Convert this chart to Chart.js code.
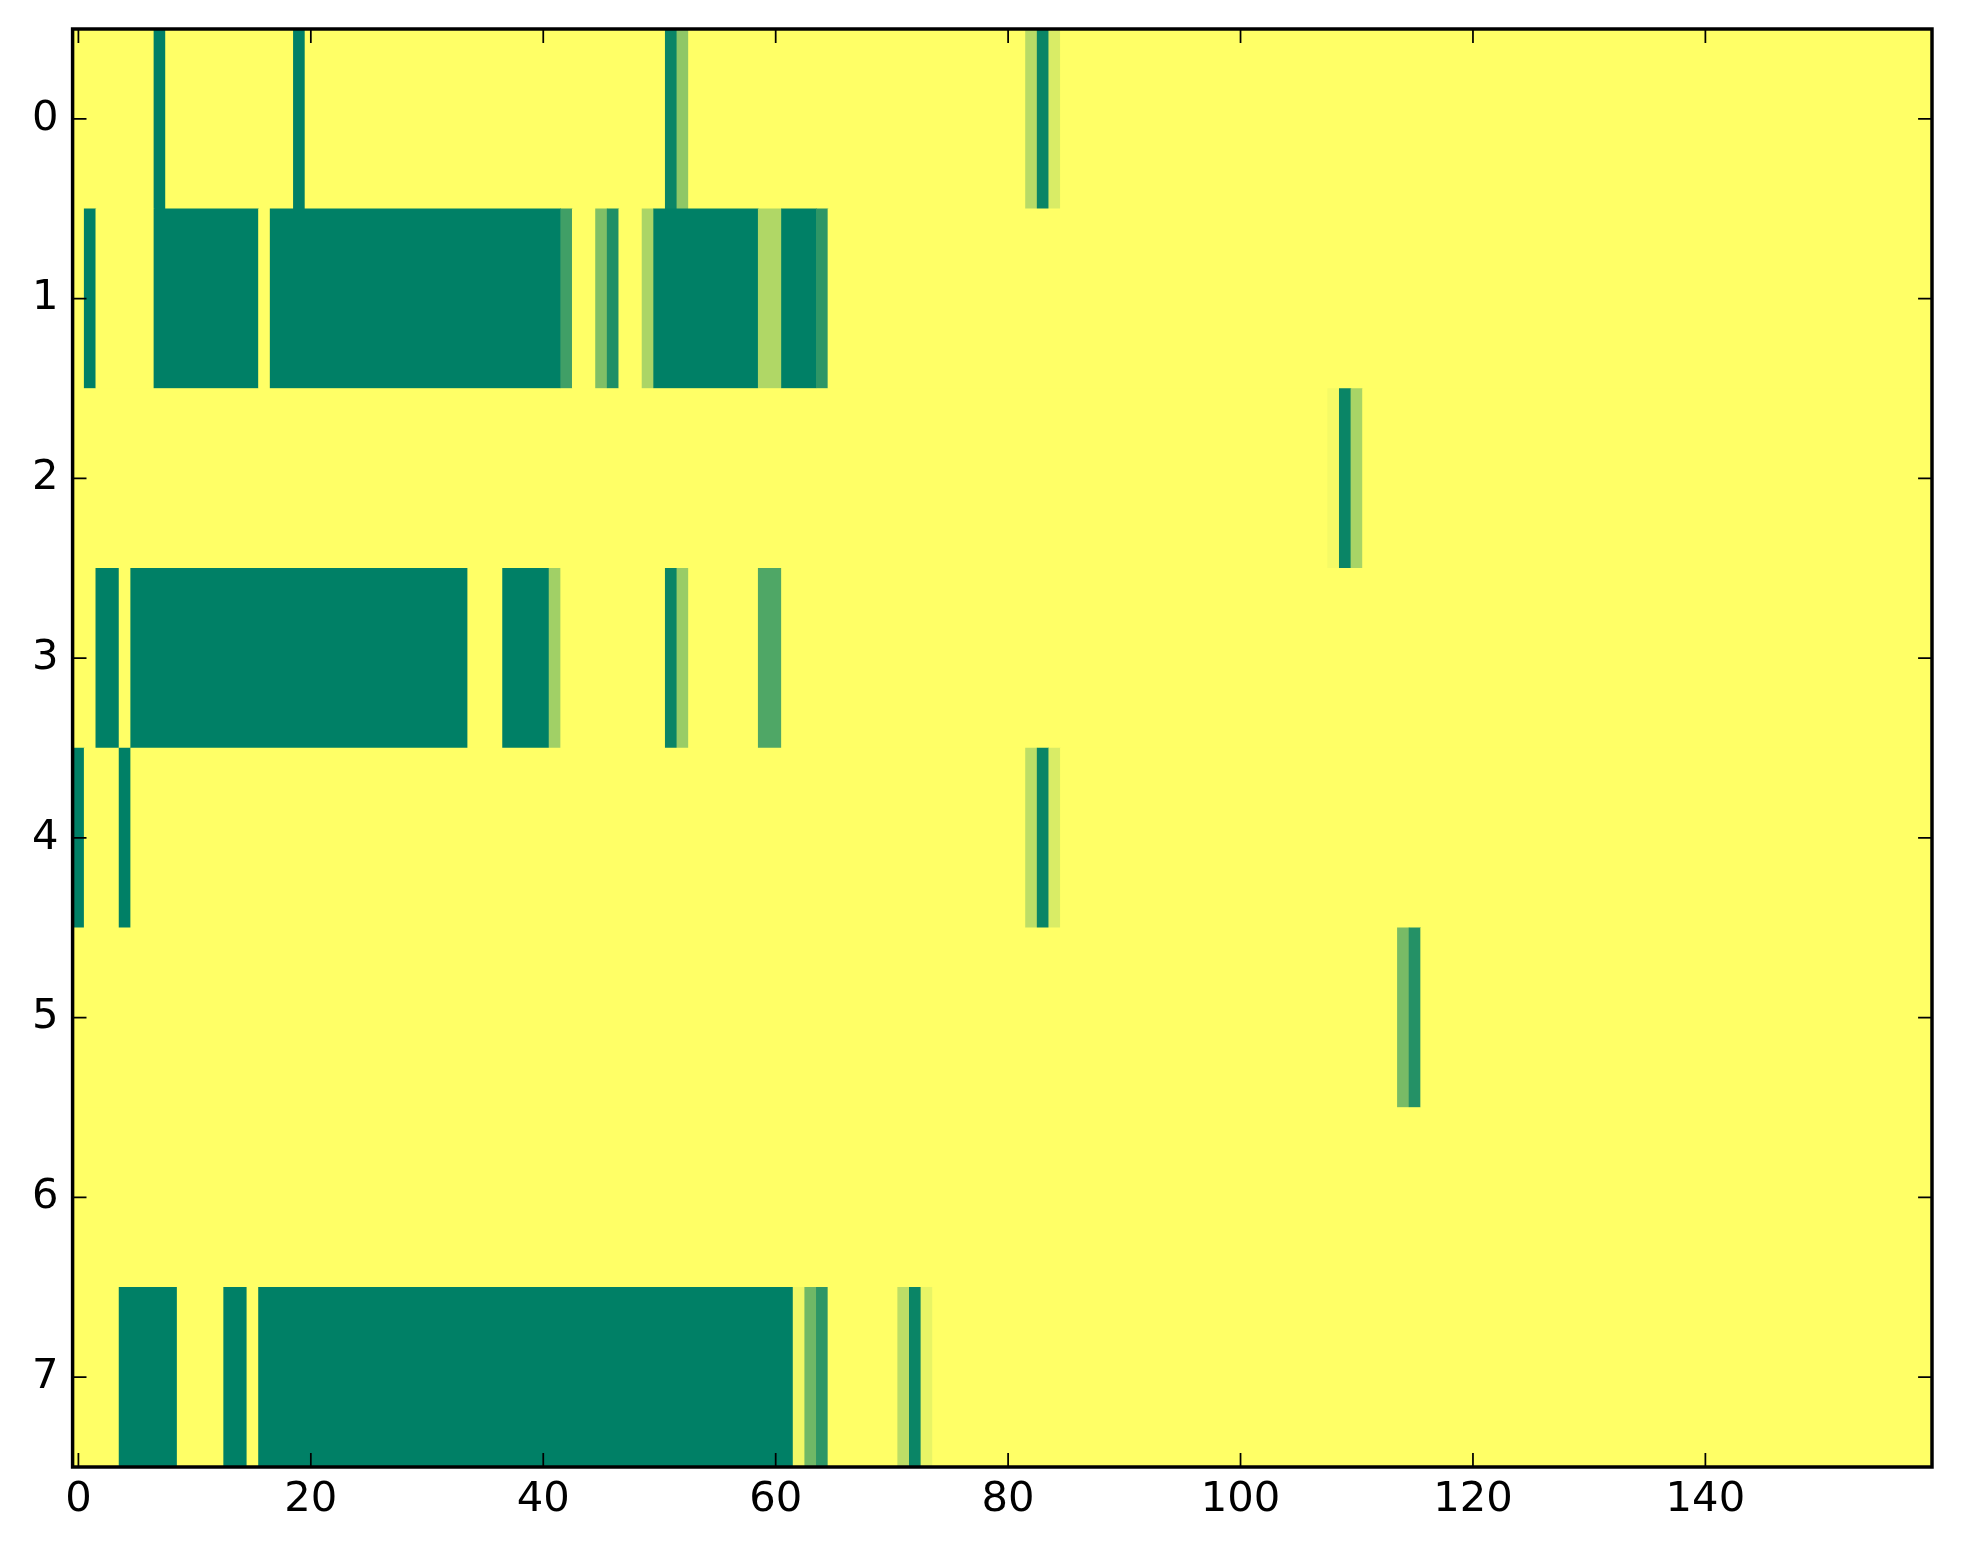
<!DOCTYPE html>
<html>
<head>
<meta charset="utf-8">
<script src="https://cdn.jsdelivr.net/npm/chart.js@4.4.1/dist/chart.umd.min.js"></script>
<style>
html,body{margin:0;padding:0;background:#ffffff;}
canvas{display:block;}
</style>
</head>
<body>
<canvas id="c" width="1963" height="1564"></canvas>
<script>
// ---- data (imshow-style grid: 8 rows x 160 columns, values 0..1) ----
const rowLabels = ['0','1','2','3','4','5','6','7'];
const xTickValues = [0,20,40,60,80,100,120,140];

const row0 = [
0,0,0,0,0,0,0,1,0,0,0,0,0,0,0,0,0,0,0,1,
0,0,0,0,0,0,0,0,0,0,0,0,0,0,0,0,0,0,0,0,
0,0,0,0,0,0,0,0,0,0,0,0.96,0.44,0,0,0,0,0,0,0,
0,0,0,0,0,0,0,0,0,0,0,0,0,0,0,0,0,0,0,0,
0,0,0.28,0.96,0.15,0,0,0,0,0,0,0,0,0,0,0,0,0,0,0,
0,0,0,0,0,0,0,0,0,0,0,0,0,0,0,0,0,0,0,0,
0,0,0,0,0,0,0,0,0,0,0,0,0,0,0,0,0,0,0,0,
0,0,0,0,0,0,0,0,0,0,0,0,0,0,0,0,0,0,0,0];

const row1 = [
0,1,0,0,0,0,0,1,1,1,1,1,1,1,1,1,0,1,1,1,
1,1,1,1,1,1,1,1,1,1,1,1,1,1,1,1,1,1,1,1,
1,1,0.75,0,0,0.5,0.88,0,0,0.33,1,1,1,1,1,1,1,1,1,0.31,
0.31,1,1,1,0.82,0,0,0,0,0,0,0,0,0,0,0,0,0,0,0,
0,0,0,0,0,0,0,0,0,0,0,0,0,0,0,0,0,0,0,0,
0,0,0,0,0,0,0,0,0,0,0,0,0,0,0,0,0,0,0,0,
0,0,0,0,0,0,0,0,0,0,0,0,0,0,0,0,0,0,0,0,
0,0,0,0,0,0,0,0,0,0,0,0,0,0,0,0,0,0,0,0];

const row2 = [
0,0,0,0,0,0,0,0,0,0,0,0,0,0,0,0,0,0,0,0,
0,0,0,0,0,0,0,0,0,0,0,0,0,0,0,0,0,0,0,0,
0,0,0,0,0,0,0,0,0,0,0,0,0,0,0,0,0,0,0,0,
0,0,0,0,0,0,0,0,0,0,0,0,0,0,0,0,0,0,0,0,
0,0,0,0,0,0,0,0,0,0,0,0,0,0,0,0,0,0,0,0,
0,0,0,0,0,0,0,0,0.04,0.96,0.34,0,0,0,0,0,0,0,0,0,
0,0,0,0,0,0,0,0,0,0,0,0,0,0,0,0,0,0,0,0,
0,0,0,0,0,0,0,0,0,0,0,0,0,0,0,0,0,0,0,0];

const row3 = [
0,0,1,1,0,1,1,1,1,1,1,1,1,1,1,1,1,1,1,1,
1,1,1,1,1,1,1,1,1,1,1,1,1,1,0,0,0,1,1,1,
1,0.37,0,0,0,0,0,0,0,0,0,0.96,0.4,0,0,0,0,0,0,0.69,
0.69,0,0,0,0,0,0,0,0,0,0,0,0,0,0,0,0,0,0,0,
0,0,0,0,0,0,0,0,0,0,0,0,0,0,0,0,0,0,0,0,
0,0,0,0,0,0,0,0,0,0,0,0,0,0,0,0,0,0,0,0,
0,0,0,0,0,0,0,0,0,0,0,0,0,0,0,0,0,0,0,0,
0,0,0,0,0,0,0,0,0,0,0,0,0,0,0,0,0,0,0,0];

const row4 = [
1,0,0,0,1,0,0,0,0,0,0,0,0,0,0,0,0,0,0,0,
0,0,0,0,0,0,0,0,0,0,0,0,0,0,0,0,0,0,0,0,
0,0,0,0,0,0,0,0,0,0,0,0,0,0,0,0,0,0,0,0,
0,0,0,0,0,0,0,0,0,0,0,0,0,0,0,0,0,0,0,0,
0,0,0.26,0.96,0.15,0,0,0,0,0,0,0,0,0,0,0,0,0,0,0,
0,0,0,0,0,0,0,0,0,0,0,0,0,0,0,0,0,0,0,0,
0,0,0,0,0,0,0,0,0,0,0,0,0,0,0,0,0,0,0,0,
0,0,0,0,0,0,0,0,0,0,0,0,0,0,0,0,0,0,0,0];

const row5 = [
0,0,0,0,0,0,0,0,0,0,0,0,0,0,0,0,0,0,0,0,
0,0,0,0,0,0,0,0,0,0,0,0,0,0,0,0,0,0,0,0,
0,0,0,0,0,0,0,0,0,0,0,0,0,0,0,0,0,0,0,0,
0,0,0,0,0,0,0,0,0,0,0,0,0,0,0,0,0,0,0,0,
0,0,0,0,0,0,0,0,0,0,0,0,0,0,0,0,0,0,0,0,
0,0,0,0,0,0,0,0,0,0,0,0,0,0,0.53,0.86,0,0,0,0,
0,0,0,0,0,0,0,0,0,0,0,0,0,0,0,0,0,0,0,0,
0,0,0,0,0,0,0,0,0,0,0,0,0,0,0,0,0,0,0,0];

const row6 = [
0,0,0,0,0,0,0,0,0,0,0,0,0,0,0,0,0,0,0,0,
0,0,0,0,0,0,0,0,0,0,0,0,0,0,0,0,0,0,0,0,
0,0,0,0,0,0,0,0,0,0,0,0,0,0,0,0,0,0,0,0,
0,0,0,0,0,0,0,0,0,0,0,0,0,0,0,0,0,0,0,0,
0,0,0,0,0,0,0,0,0,0,0,0,0,0,0,0,0,0,0,0,
0,0,0,0,0,0,0,0,0,0,0,0,0,0,0,0,0,0,0,0,
0,0,0,0,0,0,0,0,0,0,0,0,0,0,0,0,0,0,0,0,
0,0,0,0,0,0,0,0,0,0,0,0,0,0,0,0,0,0,0,0];

const row7 = [
0,0,0,0,1,1,1,1,1,0,0,0,0,1,1,0,1,1,1,1,
1,1,1,1,1,1,1,1,1,1,1,1,1,1,1,1,1,1,1,1,
1,1,1,1,1,1,1,1,1,1,1,1,1,1,1,1,1,1,1,1,
1,1,0.06,0.56,0.82,0,0,0,0,0,0,0.26,0.96,0.09,0,0,0,0,0,0,
0,0,0,0,0,0,0,0,0,0,0,0,0,0,0,0,0,0,0,0,
0,0,0,0,0,0,0,0,0,0,0,0,0,0,0,0,0,0,0,0,
0,0,0,0,0,0,0,0,0,0,0,0,0,0,0,0,0,0,0,0,
0,0,0,0,0,0,0,0,0,0,0,0,0,0,0,0,0,0,0,0];

const rows = [row0,row1,row2,row3,row4,row5,row6,row7];

// matplotlib "summer_r" colormap
function summerR(v){
  const t = 1 - v;
  return 'rgb(' + Math.round(255*t) + ',' + Math.round(127.5 + 127.5*t) + ',102)';
}

// floating bars spanning [col-0.5, col+0.5]; neighbouring cells with the
// same value are joined into one bar so no anti-aliasing seams appear
const cells = [];
rows.forEach((vals, r) => {
  let start = 0;
  for (let c = 1; c <= vals.length; c++) {
    if (c === vals.length || vals[c] !== vals[start]) {
      cells.push({ x: [start - 0.5, c - 0.5], y: rowLabels[r], v: vals[start] });
      start = c;
    }
  }
});

const FONT = { family: 'DejaVu Sans', size: 41.7 };

const framePlugin = {
  id: 'frame',
  beforeDatasetsDraw(chart) {
    const { ctx, chartArea: a } = chart;
    ctx.save();
    ctx.fillStyle = summerR(0);
    ctx.fillRect(a.left, a.top, a.right - a.left, a.bottom - a.top);
    ctx.restore();
  },
  afterDraw(chart) {
    const { ctx, chartArea: a, scales } = chart;
    const len = 13.9;
    ctx.save();
    ctx.strokeStyle = '#000';
    ctx.lineWidth = 1.74;
    ctx.beginPath();
    scales.x.ticks.forEach(t => {
      const px = scales.x.getPixelForValue(t.value);
      ctx.moveTo(px, a.bottom); ctx.lineTo(px, a.bottom - len);
      ctx.moveTo(px, a.top); ctx.lineTo(px, a.top + len);
    });
    scales.y.ticks.forEach((t, i) => {
      const py = scales.y.getPixelForTick(i);
      ctx.moveTo(a.left, py); ctx.lineTo(a.left + len, py);
      ctx.moveTo(a.right, py); ctx.lineTo(a.right - len, py);
    });
    ctx.stroke();
    ctx.lineWidth = 3.47;
    ctx.strokeRect(a.left, a.top, a.right - a.left, a.bottom - a.top);
    ctx.restore();
  }
};

new Chart(document.getElementById('c'), {
  type: 'bar',
  data: {
    labels: rowLabels,
    datasets: [{
      data: cells,
      backgroundColor: ctx => (ctx.raw ? summerR(ctx.raw.v) : 'rgba(0,0,0,0)'),
      borderWidth: 0,
      barPercentage: 1,
      categoryPercentage: 1
    }]
  },
  options: {
    indexAxis: 'y',
    responsive: false,
    devicePixelRatio: 1,
    animation: false,
    events: [],
    layout: { padding: { top: 29, right: 31, left: 0, bottom: 0 } },
    plugins: { legend: { display: false }, tooltip: { enabled: false }, title: { display: false } },
    scales: {
      x: {
        type: 'linear',
        min: -0.5,
        max: 159.5,
        grid: { display: false, drawTicks: false },
        border: { display: false },
        afterBuildTicks: s => { s.ticks = xTickValues.map(v => ({ value: v })); },
        afterFit: s => { s.height = 97; s.paddingLeft = 0; s.paddingRight = 0; },
        ticks: { color: '#000', font: FONT, padding: 8, maxRotation: 0, autoSkip: false }
      },
      y: {
        type: 'category',
        offset: true,
        grid: { display: false, drawTicks: false, offset: true },
        border: { display: false },
        afterFit: s => { s.width = 72.6; s.paddingTop = 0; s.paddingBottom = 0; },
        ticks: { color: '#000', font: FONT, padding: 14, autoSkip: false }
      }
    }
  },
  plugins: [framePlugin]
});
</script>
</body>
</html>
